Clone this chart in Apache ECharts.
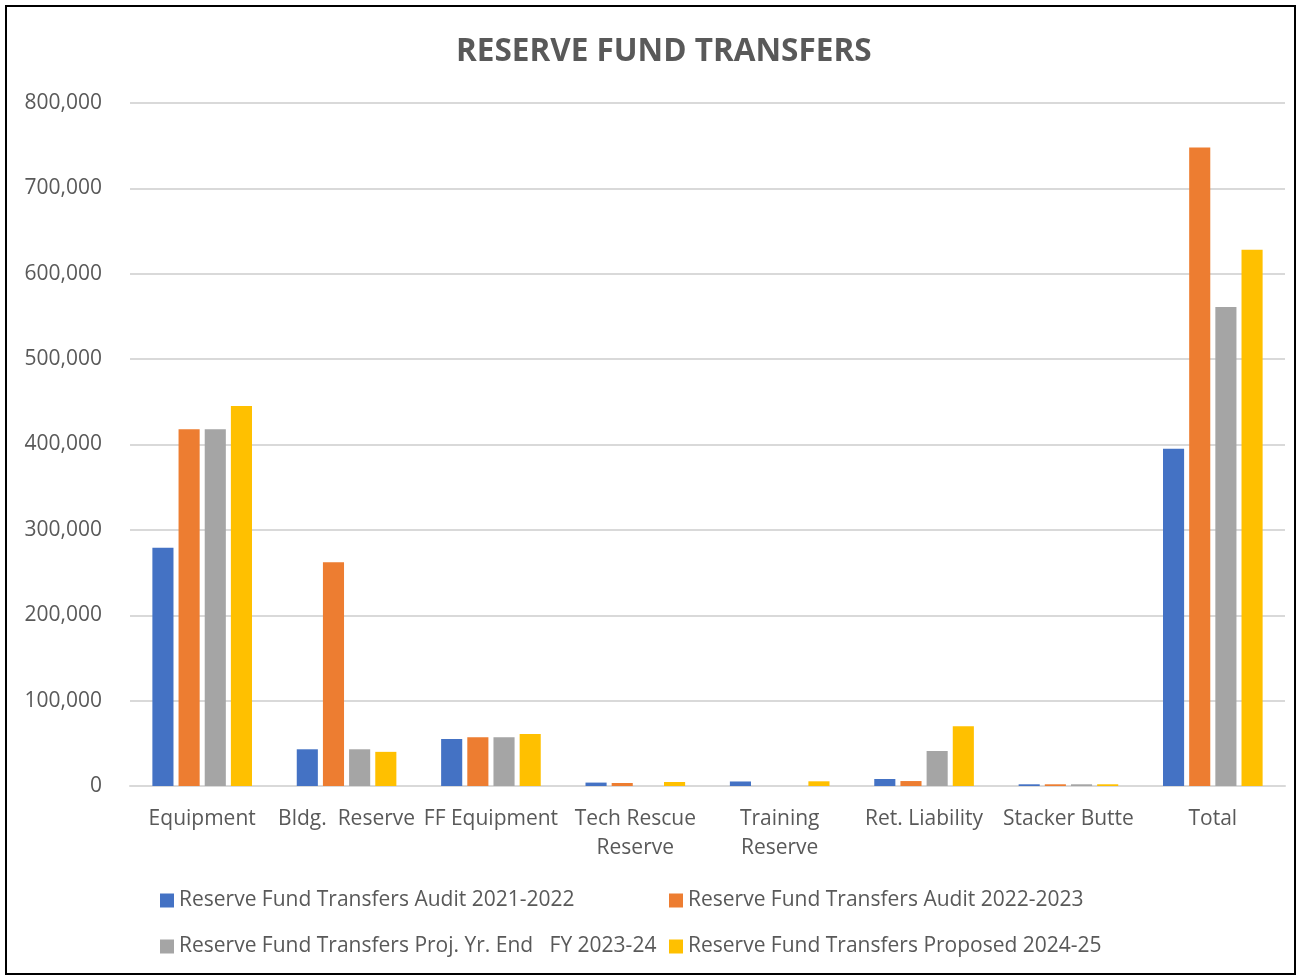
<!DOCTYPE html>
<html>
<head>
<meta charset="utf-8">
<script src="https://cdn.jsdelivr.net/npm/echarts@6/dist/echarts.min.js"></script>
<style>
	html, body { margin: 0; padding: 0; background: #fff; }
	#frame { position: absolute; left: 5px; top: 5px; width: 1291px; height: 970px; border: 2px solid #000; box-sizing: border-box; }
	#chart { position: absolute; left: 0; top: 0; width: 1298px; height: 978px; }
</style>
</head>
<body>
<div id="frame"></div>
<div id="chart"></div>
<script>
// categories and values
var categories = ['Equipment', 'Bldg.  Reserve', 'FF Equipment', 'Tech Rescue\nReserve', 'Training\nReserve', 'Ret. Liability', 'Stacker Butte', 'Total'];
var seriesNames = [
	'Reserve Fund Transfers Audit 2021-2022',
	'Reserve Fund Transfers Audit 2022-2023',
	'Reserve Fund Transfers Proj. Yr. End   FY 2023-24',
	'Reserve Fund Transfers Proposed 2024-25'
];
var audit2122 = [279000, 43000, 55000, 4000, 5300, 8200, 2000, 395000];
var audit2223 = [418000, 262000, 57000, 3500, 0, 5800, 2000, 748000];
var proj2324 = [418000, 43000, 57000, 0, 0, 41000, 2000, 561000];
var prop2425 = [445000, 40000, 61000, 4700, 5500, 70000, 2000, 628000];
var colors = ['#4472c4', '#ed7d31', '#a5a5a5', '#ffc000'];

var fontFam = 'Open Sans, Noto Sans, sans-serif';

var myChart = echarts.init(document.getElementById('chart'));

function bar(name, data, color) {
	return {
		name: name,
		type: 'bar',
		data: data,
		barGap: '24%',
		barCategoryGap: '31%',
		itemStyle: { color: color },
		emphasis: { disabled: true }
	};
}

var legendCommon = {
	orient: 'vertical',
	itemWidth: 14,
	itemHeight: 14,
	itemGap: 25,
	icon: 'rect',
	textStyle: { color: '#595959', fontSize: 21, fontFamily: fontFam }
};

var option = {
	animation: false,
	title: {
		text: 'RESERVE FUND TRANSFERS',
		left: 451,
		top: 31,
		textStyle: { color: '#595959', fontSize: 31.5, fontWeight: 'bold', fontFamily: fontFam }
	},
	legend: [
		Object.assign({ left: 155, top: 885, data: [seriesNames[0], seriesNames[2]] }, legendCommon),
		Object.assign({ left: 664, top: 885, data: [seriesNames[1], seriesNames[3]] }, legendCommon)
	],
	grid: { left: 130, right: 13, top: 103, bottom: 192, containLabel: false },
	xAxis: {
		type: 'category',
		data: categories,
		axisLine: { lineStyle: { color: '#d9d9d9', width: 2 } },
		axisTick: { show: false },
		axisLabel: { color: '#595959', fontSize: 21, fontFamily: fontFam, margin: 19, lineHeight: 29, interval: 0 }
	},
	yAxis: {
		type: 'value',
		min: 0,
		max: 800000,
		interval: 100000,
		axisLine: { show: false },
		axisTick: { show: false },
		splitLine: { lineStyle: { color: '#d9d9d9', width: 2 } },
		axisLabel: {
			color: '#595959', fontSize: 21, fontFamily: fontFam, margin: 28,
			formatter: function (v) { return v.toLocaleString('en-US'); }
		}
	},
	series: [
		bar(seriesNames[0], audit2122, colors[0]),
		bar(seriesNames[1], audit2223, colors[1]),
		bar(seriesNames[2], proj2324, colors[2]),
		bar(seriesNames[3], prop2425, colors[3])
	]
};
myChart.setOption(option);
</script>
</body>
</html>
